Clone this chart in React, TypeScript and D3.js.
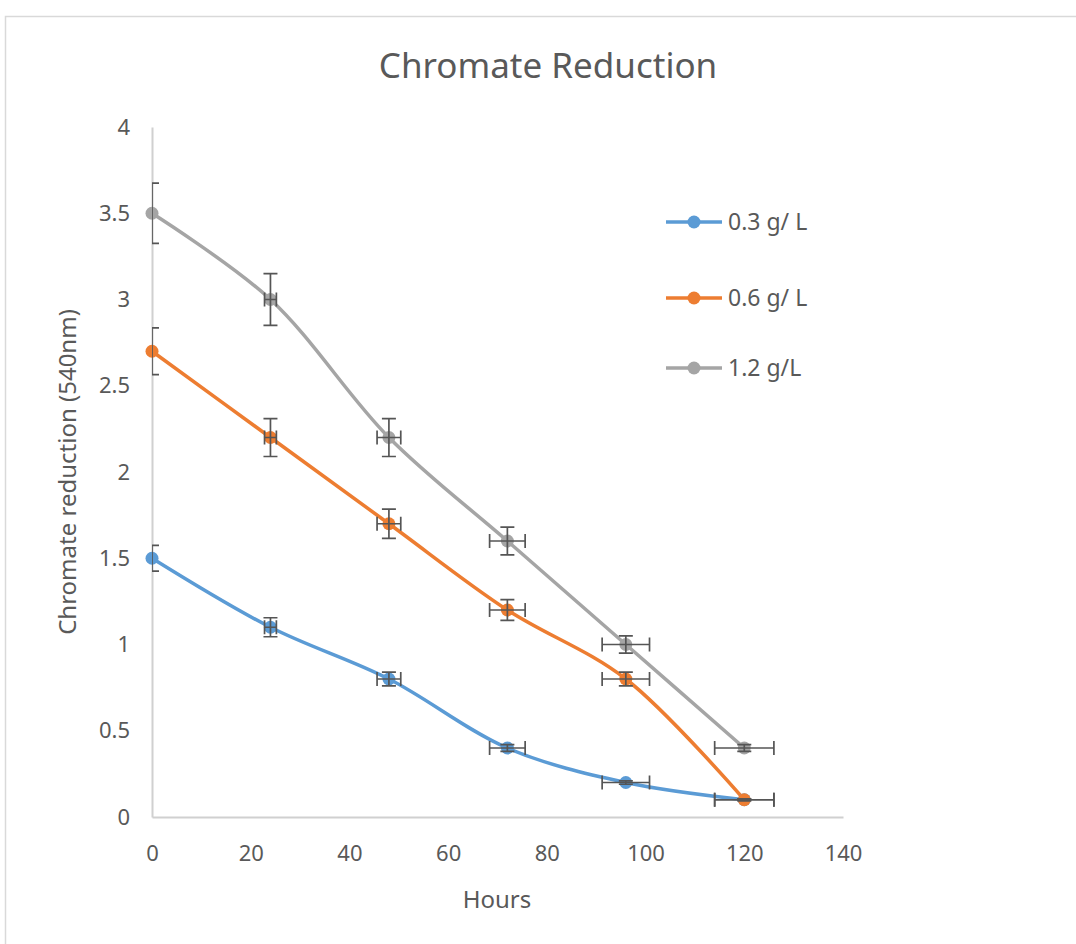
import React, { useEffect, useRef } from "react";
import * as d3 from "d3";

// hours sampled
const hours = [0, 24, 48, 72, 96, 120];

// chromate reduction (540nm) per concentration
const series03 = [1.5, 1.1, 0.8, 0.4, 0.2, 0.1];
const series06 = [2.7, 2.2, 1.7, 1.2, 0.8, 0.1];
const series12 = [3.5, 3.0, 2.2, 1.6, 1.0, 0.4];

const seriesNames = ["0.3 g/ L", "0.6 g/ L", "1.2 g/L"];
const seriesColors = ["#5B9BD5", "#ED7D31", "#A5A5A5"];

// Excel percentage error bars (both directions)
const errorPercent = 5;

const xTicks = [0, 20, 40, 60, 80, 100, 120, 140];
const yTicks = [0, 0.5, 1, 1.5, 2, 2.5, 3, 3.5, 4];

const FONT = "'Noto Sans', 'Open Sans', sans-serif";
const TEXT = "#595959";

const App = () => {
  const ref = useRef<SVGSVGElement | null>(null);

  useEffect(() => {
    makeGraph();
  }, []);

  const makeGraph = () => {
    const width = 1076;
    const height = 944;
    const plot = { left: 152, right: 843, top: 127, bottom: 817 };

    const svg = d3.select(ref.current).attr("width", width).attr("height", height);
    svg.selectAll("*").remove();

    // chart frame
    svg
      .append("rect")
      .attr("x", 5.5)
      .attr("y", 16.5)
      .attr("width", width + 20)
      .attr("height", height + 20)
      .attr("fill", "#fff")
      .attr("stroke", "#D9D9D9")
      .attr("stroke-width", 1.5);

    const x = d3.scaleLinear().domain([0, 140]).range([plot.left, plot.right]);
    const y = d3.scaleLinear().domain([0, 4]).range([plot.bottom, plot.top]);

    // title
    svg
      .append("text")
      .attr("x", 548)
      .attr("y", 78)
      .attr("text-anchor", "middle")
      .attr("font-family", FONT)
      .attr("font-size", 35)
      .attr("fill", TEXT)
      .text("Chromate Reduction");

    // axes
    const xAxis = (g) =>
      g
        .attr("transform", `translate(0, ${plot.bottom})`)
        .call(d3.axisBottom(x).tickValues(xTicks).tickSize(0).tickPadding(28))
        .call((g) => g.select(".domain").attr("stroke", "#D0D0D0").attr("stroke-width", 2));

    const yAxis = (g) =>
      g
        .attr("transform", `translate(${plot.left}, 0)`)
        .call(d3.axisLeft(y).tickValues(yTicks).tickSize(0).tickPadding(22).tickFormat(d3.format("")))
        .call((g) => g.select(".domain").attr("stroke", "#D0D0D0").attr("stroke-width", 2));

    [svg.append("g").call(xAxis), svg.append("g").call(yAxis)].forEach((g) =>
      g
        .selectAll("text")
        .attr("font-family", FONT)
        .attr("font-size", 22)
        .attr("fill", TEXT)
    );

    // axis titles
    svg
      .append("text")
      .attr("x", 497)
      .attr("y", 908)
      .attr("text-anchor", "middle")
      .attr("font-family", FONT)
      .attr("font-size", 24)
      .attr("fill", TEXT)
      .text("Hours");

    svg
      .append("text")
      .attr("transform", "translate(76, 472) rotate(-90)")
      .attr("text-anchor", "middle")
      .attr("font-family", FONT)
      .attr("font-size", 24)
      .attr("fill", TEXT)
      .text("Chromate reduction (540nm)");

    const allSeries = [series03, series06, series12].map((vals, i) => ({
      name: seriesNames[i],
      color: seriesColors[i],
      points: vals.map((v, j) => ({ h: hours[j], v })),
    }));

    // smoothed lines
    const line = d3
      .line()
      .x((d) => x(d.h))
      .y((d) => y(d.v))
      .curve(d3.curveCatmullRom.alpha(0.5));

    svg
      .append("g")
      .selectAll("path")
      .data(allSeries)
      .enter()
      .append("path")
      .attr("fill", "none")
      .attr("stroke", (d) => d.color)
      .attr("stroke-width", 3.5)
      .attr("stroke-linejoin", "round")
      .attr("d", (d) => line(d.points));

    // markers
    allSeries.forEach((s) => {
      svg
        .append("g")
        .selectAll("circle")
        .data(s.points)
        .enter()
        .append("circle")
        .attr("cx", (d) => x(d.h))
        .attr("cy", (d) => y(d.v))
        .attr("r", 6.5)
        .attr("fill", s.color);
    });

    // error bars, clipped to plot area
    svg
      .append("clipPath")
      .attr("id", "plot-clip")
      .append("rect")
      .attr("x", plot.left)
      .attr("y", 0)
      .attr("width", width - plot.left)
      .attr("height", height);

    const eb = svg
      .append("g")
      .attr("clip-path", "url(#plot-clip)")
      .attr("stroke", "#555555")
      .attr("stroke-width", 1.7)
      .attr("fill", "none");

    const cap = 7;
    allSeries.forEach((s) => {
      s.points.forEach((d) => {
        const cx = x(d.h);
        const cy = y(d.v);
        const dv = (d.v * errorPercent) / 100;
        const dh = (d.h * errorPercent) / 100;
        const y0 = y(d.v - dv);
        const y1 = y(d.v + dv);
        const x0 = x(d.h - dh);
        const x1 = x(d.h + dh);
        eb.append("path").attr(
          "d",
          `M${cx},${y0}V${y1}M${cx - cap},${y0}H${cx + cap}M${cx - cap},${y1}H${cx + cap}`
        );
        if (dh > 0) {
          eb.append("path").attr(
            "d",
            `M${x0},${cy}H${x1}M${x0},${cy - cap}V${cy + cap}M${x1},${cy - cap}V${cy + cap}`
          );
        }
      });
    });

    // legend
    const legend = svg
      .append("g")
      .selectAll("g")
      .data(allSeries)
      .enter()
      .append("g")
      .attr("transform", (d, i) => `translate(666, ${[222, 298, 368][i]})`);

    legend
      .append("line")
      .attr("x1", 0)
      .attr("x2", 56)
      .attr("stroke", (d) => d.color)
      .attr("stroke-width", 3.5);

    legend
      .append("circle")
      .attr("cx", 28)
      .attr("r", 6.5)
      .attr("fill", (d) => d.color);

    legend
      .append("text")
      .attr("x", 62)
      .attr("dy", "0.35em")
      .attr("font-family", FONT)
      .attr("font-size", 23)
      .attr("fill", TEXT)
      .text((d) => d.name);
  };

  return (
    <svg
      ref={ref}
      style={{ position: "absolute", left: 0, top: 0, display: "block" }}
    ></svg>
  );
};

export default App;
